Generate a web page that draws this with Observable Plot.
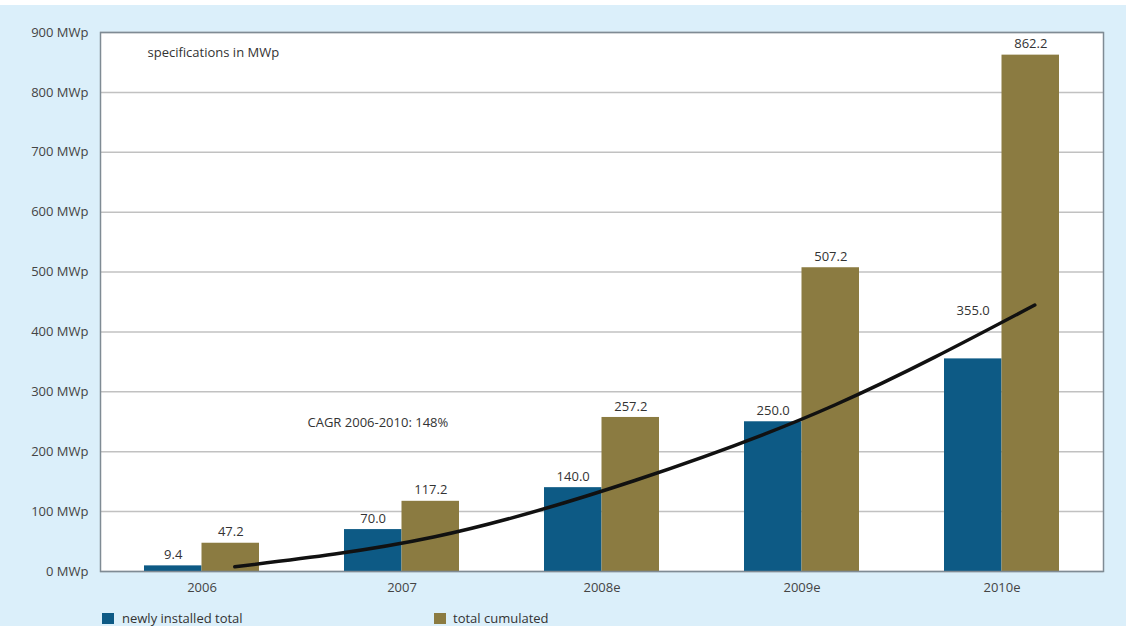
<!DOCTYPE html>
<html>
<head>
<meta charset="utf-8">
<script src="https://cdn.jsdelivr.net/npm/d3@7"></script>
<script src="https://cdn.jsdelivr.net/npm/@observablehq/plot@0.6"></script>
<style>
  html, body { margin: 0; padding: 0; }
  body { width: 1126px; height: 626px; background: #dbeffa; position: relative; overflow: hidden;
         font-family: "Open Sans", "Liberation Sans", sans-serif; }
  #topstrip { position: absolute; left: 0; top: 0; width: 1126px; height: 5px; background: #ffffff; }
  #chart { position: absolute; left: 0; top: 5px; }
  .leg { position: absolute; top: 611px; font-size: 13px; color: #333; line-height: 14px; }
  .sw { position: absolute; top: 613px; width: 12px; height: 11px; }
</style>
</head>
<body>
<div id="topstrip"></div>
<div id="chart"></div>
<div class="sw" style="left:102px;background:#0d5a85"></div>
<div class="leg" style="left:122px">newly installed total</div>
<div class="sw" style="left:434px;background:#8b7b41"></div>
<div class="leg" style="left:453px">total cumulated</div>
<script>
const years = ["2006", "2007", "2008e", "2009e", "2010e"];
const newlyInstalled = [9.4, 70.0, 140.0, 250.0, 355.0];
const totalCumulated = [47.2, 117.2, 257.2, 507.2, 862.2];
const trendCurve = [8, 58, 152, 278, 445];
const yTicks = [0, 100, 200, 300, 400, 500, 600, 700, 800, 900];
const noteText = "specifications in MWp";
const cagrText = "CAGR 2006-2010: 148%";

const blue = "#0d5a85";
const gold = "#8b7b41";

const data = years.map((y, i) => ({
  year: y, newly: newlyInstalled[i], total: totalCumulated[i], trend: trendCurve[i]
}));

const pi = 0.427;
const half = 57.5;
const off = 28.8;

const chart = Plot.plot({
  width: 1126,
  height: 595,
  marginLeft: 100,
  marginRight: 23,
  marginTop: 27,
  marginBottom: 29,
  style: { background: "transparent", fontFamily: "Open Sans, Liberation Sans, sans-serif", fontSize: "13px", color: "#444" },
  x: { domain: years, paddingInner: pi, paddingOuter: pi / 2, label: null, tickSize: 0, tickPadding: 11 },
  y: { domain: [0, 900], ticks: yTicks, tickFormat: d => `${d} MWp`, label: null, tickSize: 0, tickPadding: 12 },
  marks: [
    Plot.frame({ fill: "white", stroke: null }),
    Plot.gridY(yTicks, { stroke: "#a0a0a0", strokeOpacity: 0.65, strokeWidth: 1.5 }),
    Plot.barY(data, { x: "year", y: "newly", fill: blue, insetRight: half }),
    Plot.barY(data, { x: "year", y: "total", fill: gold, insetLeft: half }),
    Plot.line(data, { x: "year", y: "trend", dx: off + 4, curve: "natural", stroke: "#111", strokeWidth: 3.5 }),
    Plot.text(data.filter(d => d.year !== "2010e"), { x: "year", y: "newly", dx: -off, dy: -11, text: d => d.newly.toFixed(1), fill: "#333", fontSize: 13 }),
    Plot.text(data.filter(d => d.year === "2010e"), { x: "year", y: "newly", dx: -off, dy: -48, text: d => d.newly.toFixed(1), fill: "#333", fontSize: 13 }),
    Plot.text(data, { x: "year", y: "total", dx: off, dy: -11, text: d => d.total.toFixed(1), fill: "#333", fontSize: 13 }),
    Plot.text([noteText], { frameAnchor: "top-left", textAnchor: "start", lineAnchor: "middle", dx: 47, dy: 20, fill: "#333", fontSize: 13 }),
    Plot.text([cagrText], { frameAnchor: "top-left", textAnchor: "start", lineAnchor: "middle", dx: 207, dy: 390, fill: "#333", fontSize: 13 }),
    Plot.frame({ stroke: "#7f8b94", strokeWidth: 1.5 })
  ]
});
document.getElementById("chart").appendChild(chart);
</script>
</body>
</html>
